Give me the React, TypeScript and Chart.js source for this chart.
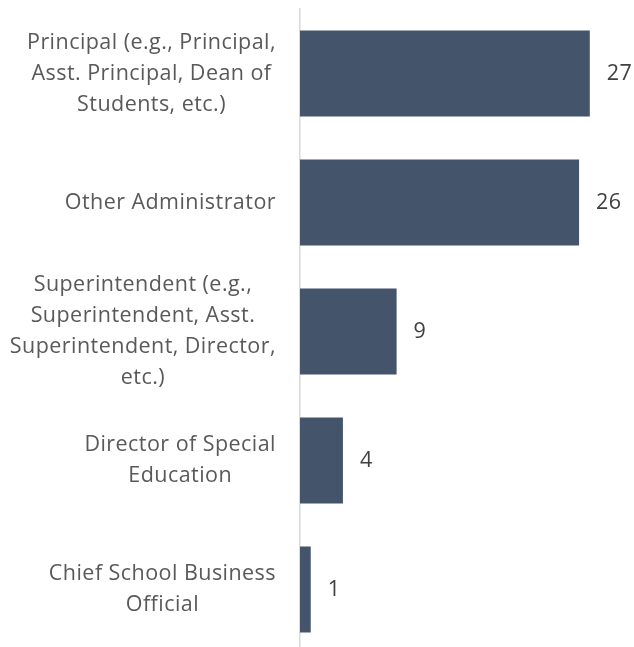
import React, { useEffect, useRef } from "react";
import { Chart, registerables } from "chart.js";

Chart.register(...registerables);

const categories: string[][] = [
  ["Principal (e.g., Principal,", "Asst. Principal, Dean of", "Students, etc.)"],
  ["Other Administrator"],
  ["Superintendent (e.g.,", "Superintendent, Asst.", "Superintendent, Director,", "etc.)"],
  ["Director of Special", "Education"],
  ["Chief School Business", "Official"],
];
const values: number[] = [27, 26, 9, 4, 1];
const xMax = 30;

const FONT = "21.5px 'Open Sans', 'Noto Sans', sans-serif";

const labelPlugin = {
  id: "customLabels",
  afterDraw(chart: any) {
    const ctx = chart.ctx;
    const yScale = chart.scales.y;
    const area = chart.chartArea;
    ctx.save();
    ctx.font = FONT;
    ctx.letterSpacing = "0.45px";
    ctx.textBaseline = "middle";
    const lineH = 31;
    categories.forEach((lines, i) => {
      const cy = yScale.getPixelForValue(i);
      const maxW = Math.max(...lines.map((l) => ctx.measureText(l).width));
      const right = area.left - 24;
      const cx = right - maxW / 2;
      ctx.fillStyle = "#595959";
      ctx.textAlign = "center";
      lines.forEach((l, j) => {
        const y = cy + (j - (lines.length - 1) / 2) * lineH;
        ctx.fillText(l, cx, y);
      });
    });
    const meta = chart.getDatasetMeta(0);
    ctx.textAlign = "left";
    ctx.fillStyle = "#404040";
    meta.data.forEach((bar: any, i: number) => {
      ctx.fillText(String(values[i]), bar.x + 17, bar.y);
    });
    ctx.restore();
  },
};

export default function App() {
  const ref = useRef<HTMLCanvasElement>(null);
  useEffect(() => {
    if (!ref.current) return;
    const chart = new Chart(ref.current, {
      type: "bar",
      data: {
        labels: categories.map((c) => c.join(" ")),
        datasets: [
          {
            data: values,
            backgroundColor: "#44546A",
            borderWidth: 0,
            categoryPercentage: 1,
            barPercentage: 0.667,
          },
        ],
      },
      options: {
        indexAxis: "y",
        animation: false,
        responsive: false,
        maintainAspectRatio: false,
        layout: { padding: { top: 9, right: 12, bottom: 0, left: 0 } },
        plugins: { legend: { display: false }, tooltip: { enabled: false } },
        scales: {
          x: { display: false, min: 0, max: xMax },
          y: {
            ticks: { display: false },
            grid: { display: false, drawTicks: false },
            border: { display: true, color: "#D9D9D9", width: 1.5 },
            afterFit(scale: any) {
              scale.width = 300;
            },
          },
        },
      },
      plugins: [labelPlugin],
    });
    return () => chart.destroy();
  }, []);
  return (
    <div style={{ position: "fixed", left: 0, top: 0, width: 634, height: 647, overflow: "hidden", background: "#fff" }}>
      <canvas ref={ref} width={634} height={654} style={{ display: "block", width: 634, height: 654 }} />
    </div>
  );
}
